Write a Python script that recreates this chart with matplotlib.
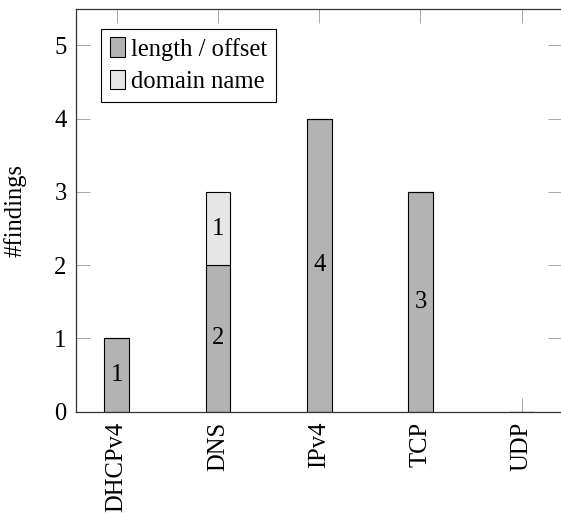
import numpy as np
import matplotlib
matplotlib.use('Agg')
import matplotlib.pyplot as plt

plt.rcParams['font.family'] = ['Liberation Serif', 'DejaVu Serif']
plt.rcParams['font.size'] = 17.7

protocols = ['DHCPv4', 'DNS', 'IPv4', 'TCP', 'UDP']
length_offset = [1, 2, 4, 3, 0]
domain_name = [0, 1, 0, 0, 0]
series_labels = ['length / offset', 'domain name']

x = np.arange(len(protocols))
lo = np.array(length_offset)
dn = np.array(domain_name)

fig = plt.figure(figsize=(5.61, 5.13), dpi=100)
ax = fig.add_axes([0.136, 0.1975, 0.866, 0.7855])

w = 0.245
ax.bar(x, lo, w, color='#b3b3b3', edgecolor='black', linewidth=0.8,
       label=series_labels[0], zorder=2)
ax.bar(x, dn, w, bottom=lo, color='#e6e6e6', edgecolor='black',
       linewidth=0.8, label=series_labels[1], zorder=2)

# counts in the middle of each segment
for xi, v in zip(x, lo):
    if v > 0:
        ax.text(xi, v / 2, str(v), ha='center', va='center', zorder=3)
for xi, base, v in zip(x, lo, dn):
    if v > 0:
        ax.text(xi, base + v / 2, str(v), ha='center', va='center', zorder=3)

ax.set_xlim(-0.4, 4.4)
ax.set_ylim(0, 5.5)
ax.set_xticks(x)
ax.set_xticklabels(protocols, rotation=90, va='top', ha='center')
ax.set_yticks(range(6))
ax.tick_params(direction='in', length=10, width=0.6, color='#999999',
               top=True, right=True, pad=7)
for s in ax.spines.values():
    s.set_linewidth(0.9)
    s.set_color('#333333')

ax.set_ylabel('#findings')
ax.yaxis.set_label_coords(-0.102, 0.5)

leg = ax.legend(loc='upper left', bbox_to_anchor=(0.051, 0.950),
                borderaxespad=0, fancybox=False, edgecolor='black',
                framealpha=1, handlelength=0.62, handleheight=0.82,
                handletextpad=0.25, labelspacing=0.38, borderpad=0.35)
leg.get_frame().set_linewidth(0.8)

plt.savefig('out.png', dpi=100)
